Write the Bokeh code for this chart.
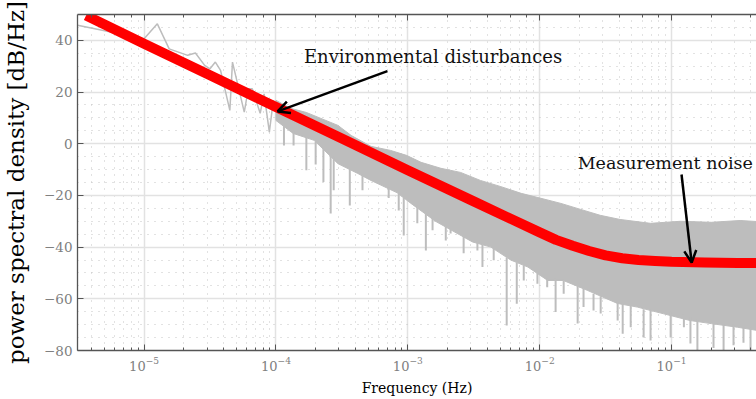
from bokeh.plotting import figure
from bokeh.models import (LogAxis, FixedTicker, Label, Arrow, OpenHead, Range1d,
                          LogTicker, ColumnDataSource)
from bokeh.embed import file_html
from bokeh.resources import INLINE

# ---------------- data ----------------
# sparse low-frequency part of the measured PSD (Hz, dB/Hz)
lf_freq = [3.13e-6, 1.00e-5, 1.26e-5, 1.55e-5, 2.14e-5, 2.45e-5, 2.88e-5, 3.16e-5,
           3.47e-5, 3.80e-5, 4.47e-5, 4.68e-5, 5.75e-5, 6.17e-5, 6.61e-5, 7.59e-5,
           8.13e-5, 8.91e-5, 9.55e-5, 1.00e-4]
lf_psd = [45.8, 40.6, 46.4, 36.7, 34.2, 35.1, 30.3, 29.0,
          31.6, 28.4, 12.9, 31.6, 12.2, 21.3, 21.3, 11.8,
          19.3, 4.5, 16.8, 13.0]

# dense part: upper envelope of the measured PSD
up_freq = [1.00e-4, 1.29e-4, 1.70e-4, 2.19e-4, 2.95e-4, 3.72e-4, 5.25e-4, 7.41e-4,
           9.77e-4, 1.26e-3, 1.78e-3, 2.51e-3, 3.55e-3, 5.01e-3, 7.24e-3, 1.02e-2,
           1.45e-2, 2.04e-2, 2.88e-2, 4.07e-2, 6.92e-2, 0.117, 0.200, 0.331, 0.441]
up_psd = [16.8, 13.7, 12.1, 9.8, 7.1, 3.2, -1.0, -2.6,
          -4.5, -7.2, -9.5, -11.1, -14.2, -16.5, -19.2, -21.1,
          -23.1, -25.4, -27.7, -29.3, -30.8, -30.0, -30.4, -29.7, -30.1]

# dense part: lower edge of the bulk of the measured PSD
lo_freq = [1.00e-4, 1.35e-4, 1.95e-4, 2.95e-4, 4.17e-4, 5.25e-4, 8.32e-4, 1.05e-3,
           1.62e-3, 3.09e-3, 4.27e-3, 6.03e-3, 8.13e-3, 1.15e-2, 1.51e-2, 2.29e-2,
           3.89e-2, 5.50e-2, 8.71e-2, 0.138, 0.200, 0.316, 0.441]
lo_psd = [9.0, 4.0, 1.3, -7.7, -11.5, -14.2, -19.0, -23.0,
          -30.0, -38.0, -40.0, -45.0, -47.7, -52.9, -52.9, -56.7,
          -61.8, -63.2, -65.8, -68.4, -69.6, -71.0, -72.2]

# deep downward spikes of the measured PSD (frequency, top, bottom)
sp_freq = [1.15e-4, 1.36e-4, 1.70e-4, 2.00e-4, 2.29e-4, 2.60e-4, 2.74e-4, 3.63e-4,
           4.53e-4, 7.16e-4, 8.53e-4, 9.31e-4, 1.18e-3, 1.37e-3, 1.54e-3, 1.94e-3,
           2.11e-3, 2.65e-3, 3.37e-3, 3.68e-3, 4.48e-3, 5.62e-3, 6.70e-3, 7.57e-3,
           9.61e-3, 1.14e-2, 1.32e-2, 1.52e-2, 1.94e-2, 2.15e-2, 2.56e-2, 2.90e-2,
           3.90e-2, 4.26e-2, 4.90e-2, 6.14e-2, 6.93e-2, 9.84e-2, 0.124, 0.139,
           0.157, 0.208, 0.248, 0.295, 0.351, 0.397]
sp_top = [8, 5, 3, 1, -2, -4, -5, -9,
          -12, -17, -19, -20, -24, -27, -29, -32,
          -33, -36, -38, -39, -40, -44, -46, -47,
          -50, -52, -52, -53, -55, -56, -58, -59,
          -61, -62, -62, -64, -64, -65, -66, -67,
          -68, -69, -70, -70, -71, -71]
sp_bot = [-0.7, -0.7, -10.3, -8.0, -14.8, -27.0, -18.0, -23.9,
          -18.0, -21.0, -25.8, -35.5, -30.8, -41.3, -33.5, -37.4,
          -34.7, -42.4, -41.3, -47.7, -45.1, -70.3, -61.9, -52.9,
          -54.2, -55.5, -65.1, -58.0, -69.6, -63.2, -64.5, -65.7,
          -68.4, -73.5, -71.0, -75.0, -76.1, -75.0, -71.0, -77.3,
          -80.0, -79.0, -80.0, -78.0, -77.0, -80.0]

# fitted model (red curve)
fit_freq = [3.63e-6, 1.00e-5, 3.16e-5, 1.00e-4, 3.16e-4, 1.00e-3, 3.16e-3, 1.00e-2,
            1.33e-2, 1.78e-2, 2.37e-2, 3.16e-2, 4.22e-2, 5.62e-2, 7.50e-2, 0.100,
            0.178, 0.316, 0.50]
fit_psd = [49.6, 38.7, 26.5, 14.2, 2.0, -10.3, -22.3, -34.3,
           -37.2, -39.5, -41.5, -43.2, -44.3, -45.0, -45.4, -45.7,
           -46.0, -46.1, -46.1]

y_ticks = [-80, -60, -40, -20, 0, 20, 40]
y_minor = [-75, -70, -65, -55, -50, -45, -35, -30, -25, -15, -10, -5,
           5, 10, 15, 25, 30, 35, 45]

# annotations
env_text = "Environmental disturbances"
env_pos = (1.63e-4, 33.8)
env_tail, env_head = (7.0e-4, 28.1), (1.03e-4, 12.5)
noise_text = "Measurement noise"
noise_pos = (1.94e-2, -7.35)
noise_tail, noise_head = (0.119, -11.9), (0.142, -46.0)

SERIF = "DejaVu Serif"
GRAY = "#bdbdbd"

# ---------------- figure ----------------
p = figure(width=756, height=399, x_axis_type="log",
           x_range=Range1d(3.126e-6, 0.4406), y_range=Range1d(-80, 50),
           output_backend="svg", toolbar_location=None,
           min_border_left=77, min_border_right=0, min_border_top=14,
           min_border_bottom=49)
p.outline_line_color = None
p.background_fill_color = "white"
p.border_fill_color = "white"

# grids
p.xgrid.grid_line_color = "#e2e2e2"
p.xgrid.grid_line_width = 1.5
p.ygrid.grid_line_color = "#e2e2e2"
p.ygrid.grid_line_width = 1.5
p.xgrid.minor_grid_line_color = "#c4c4c4"
p.xgrid.minor_grid_line_dash = "1 6"
p.xgrid.minor_grid_line_width = 1
p.ygrid.minor_grid_line_color = "#c4c4c4"
p.ygrid.minor_grid_line_dash = "1 6"
p.ygrid.minor_grid_line_width = 1

yt = FixedTicker(ticks=y_ticks, minor_ticks=y_minor)
p.yaxis.ticker = yt
p.ygrid.ticker = yt

# axes styling
for ax in (p.xaxis[0], p.yaxis[0]):
    ax.axis_line_color = "#555555"
    ax.axis_line_width = 1.3
    ax.major_tick_line_color = "#555555"
    ax.minor_tick_line_color = "#555555"
    ax.major_tick_in = 6
    ax.major_tick_out = 0
    ax.minor_tick_in = 3
    ax.minor_tick_out = 0
    ax.major_label_text_font = SERIF
    ax.major_label_text_color = "#808080"
    ax.axis_label_text_font = SERIF
    ax.axis_label_text_font_style = "normal"
    ax.axis_label_text_color = "black"

p.yaxis.minor_tick_in = 0
p.yaxis.major_label_text_font_size = "13.5px"
p.yaxis.major_label_standoff = 5
p.yaxis.axis_label = "power spectral density [dB/Hz]"
p.yaxis.axis_label_text_font_size = "23px"
p.yaxis.axis_label_standoff = 12

p.xaxis.major_label_text_font_size = "13px"
p.xaxis.major_label_standoff = 6
p.xaxis.axis_label = "Frequency (Hz)"
p.xaxis.axis_label_text_font_size = "14px"
p.xaxis.axis_label_standoff = 6

top = LogAxis(ticker=LogTicker(), axis_line_color="#555555", axis_line_width=1.3,
              major_tick_line_color="#555555", minor_tick_line_color="#555555",
              major_tick_in=6, major_tick_out=0, minor_tick_in=3, minor_tick_out=0,
              major_label_text_font_size="6px", major_label_text_alpha=0,
              major_label_standoff=0)
p.add_layout(top, "above")

# ---------------- data drawing ----------------
p.patch(x=up_freq + lo_freq[::-1], y=up_psd + lo_psd[::-1],
        fill_color=GRAY, line_color=GRAY, line_width=1)
p.line(x=lf_freq, y=lf_psd, line_color=GRAY, line_width=1.5)
spk = ColumnDataSource(dict(x=sp_freq, y0=sp_top, y1=sp_bot))
p.segment(x0="x", y0="y0", x1="x", y1="y1", source=spk,
          line_color=GRAY, line_width=2)

p.line(x=fit_freq, y=fit_psd, line_color="#ff0000", line_width=10,
       line_cap="butt", line_join="round")

# ---------------- annotations ----------------
p.add_layout(Label(x=env_pos[0], y=env_pos[1], text=env_text,
                   text_font=SERIF, text_font_size="18px",
                   text_color="#111111", text_baseline="alphabetic"))
p.add_layout(Label(x=noise_pos[0], y=noise_pos[1], text=noise_text,
                   text_font=SERIF, text_font_size="17.5px",
                   text_color="#111111", text_baseline="alphabetic"))
p.add_layout(Arrow(x_start=env_tail[0], y_start=env_tail[1],
                   x_end=env_head[0], y_end=env_head[1],
                   line_color="black", line_width=2.5,
                   end=OpenHead(size=12, line_width=2.5, line_color="black")))
p.add_layout(Arrow(x_start=noise_tail[0], y_start=noise_tail[1],
                   x_end=noise_head[0], y_end=noise_head[1],
                   line_color="black", line_width=2.5,
                   end=OpenHead(size=12, line_width=2.5, line_color="black")))

open("out.html", "w").write(file_html(p, INLINE))
